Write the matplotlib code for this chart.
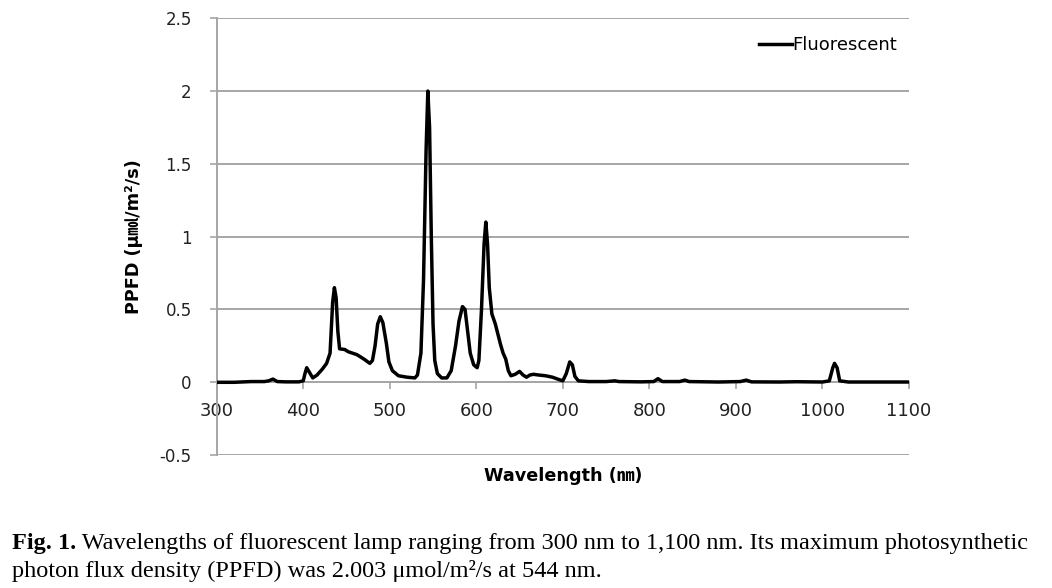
import numpy as np
import matplotlib.pyplot as plt

plt.rcParams['font.family'] = ['DejaVu Sans', 'Noto Sans CJK KR']

# spectrum (nm, umol/m2/s)
wavelength = [300, 320, 340, 355, 360, 365, 370, 380, 395, 400, 402, 404, 407, 411,
              416, 422, 427, 431, 434, 436, 438, 440, 442, 448, 452, 462, 470, 477,
              480, 483, 486, 489, 492, 496, 499, 503, 510, 520, 529, 532, 536, 539,
              542, 544, 546, 548, 550, 552, 555, 560, 566, 571, 576, 580, 584, 587,
              590, 593, 597, 601, 603, 606, 609, 611, 613, 615, 618, 622, 625, 628,
              631, 634, 637, 640, 645, 650, 654, 658, 662, 666, 672, 680, 688, 695,
              700, 704, 708, 711, 714, 718, 730, 750, 760, 765, 790, 805, 810, 815,
              835, 841, 846, 880, 905, 912, 918, 950, 970, 1000, 1008, 1012, 1014,
              1017, 1020, 1030, 1060, 1100]
ppfd = [0.0, 0.0, 0.005, 0.005, 0.01, 0.022, 0.005, 0.003, 0.003, 0.01, 0.06, 0.1, 0.07, 0.03,
        0.05, 0.09, 0.13, 0.2, 0.55, 0.65, 0.58, 0.35, 0.23, 0.225, 0.21, 0.19, 0.16, 0.13,
        0.15, 0.25, 0.4, 0.45, 0.41, 0.27, 0.14, 0.08, 0.045, 0.035, 0.03, 0.05, 0.2, 0.7,
        1.6, 2.0, 1.75, 1.0, 0.4, 0.15, 0.06, 0.03, 0.03, 0.08, 0.25, 0.42, 0.52, 0.5,
        0.35, 0.2, 0.12, 0.1, 0.15, 0.5, 0.95, 1.1, 0.95, 0.65, 0.47, 0.4, 0.33, 0.26,
        0.2, 0.16, 0.08, 0.045, 0.055, 0.075, 0.05, 0.035, 0.05, 0.055, 0.05, 0.045, 0.035, 0.02,
        0.01, 0.06, 0.14, 0.12, 0.04, 0.01, 0.005, 0.005, 0.01, 0.005, 0.003, 0.005, 0.025, 0.005,
        0.005, 0.015, 0.005, 0.002, 0.005, 0.015, 0.003, 0.002, 0.004, 0.002, 0.01, 0.1, 0.13,
        0.1, 0.01, 0.002, 0.002, 0.002]

xticks = [300, 400, 500, 600, 700, 800, 900, 1000, 1100]
yticks = [-0.5, 0, 0.5, 1, 1.5, 2, 2.5]
ytick_labels = ['-0.5', '0', '0.5', '1', '1.5', '2', '2.5']

caption1 = ' Wavelengths of fluorescent lamp ranging from 300 nm to 1,100 nm. Its maximum photosynthetic'
caption2 = 'photon flux density (PPFD) was 2.003 μmol/m²/s at 544 nm.'

grey = '#a6a6a6'

fig = plt.figure(figsize=(10.52, 5.88), dpi=100)
ax = fig.add_axes([0.206, 0.226, 0.658, 0.743])

ax.plot(wavelength, ppfd, color='black', lw=2.5, label='Fluorescent', zorder=3)

ax.set_xlim(300, 1100)
ax.set_ylim(-0.5, 2.5)
ax.set_xticks(xticks)
ax.set_yticks(yticks)
ax.set_yticklabels(ytick_labels)
ax.grid(axis='y', color=grey, lw=1.4)
ax.set_axisbelow(True)

for s in ['top', 'right']:
    ax.spines[s].set_visible(False)
ax.spines['bottom'].set_position(('data', 0))
for s in ['bottom', 'left']:
    ax.spines[s].set_color(grey)
    ax.spines[s].set_linewidth(1.4)
ax.tick_params(axis='x', length=5, width=1.2, color=grey, labelsize=13, pad=9, labelcolor='#222222')
ax.tick_params(axis='y', length=5, width=1.2, color=grey, labelsize=12, pad=13, labelcolor='#222222')

ax.set_xlabel('Wavelength (㎚)', fontsize=12.7, fontweight='bold', labelpad=34)
ax.set_ylabel('PPFD (μ㏖/m²/s)', fontsize=12.7, fontweight='bold', labelpad=12)

ax.legend(loc='upper right', frameon=False, fontsize=13, handlelength=1.8,
          handletextpad=0.05, borderpad=0, borderaxespad=0,
          bbox_to_anchor=(0.853, 0.939), bbox_transform=fig.transFigure)

t1 = fig.text(0.011, 0.066, 'Fig. 1.', family='Liberation Serif', fontweight='bold',
              fontsize=17.5, va='baseline')
ax.annotate(caption1, xy=(1, 0), xycoords=t1, va='bottom', ha='left',
            family='Liberation Serif', fontsize=17.5, annotation_clip=False)
fig.text(0.011, 0.019, caption2, family='Liberation Serif', fontsize=17.5, va='baseline')

fig.savefig('out.png', dpi=100)
